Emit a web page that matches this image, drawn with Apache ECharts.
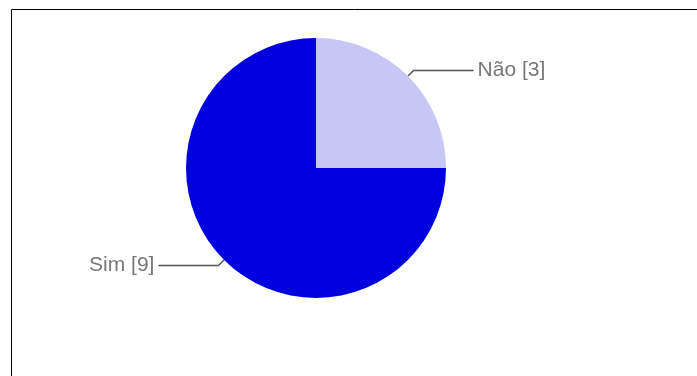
<!DOCTYPE html>
<html>
<head>
<meta charset="utf-8">
<script src="https://cdn.jsdelivr.net/npm/echarts@6/dist/echarts.min.js"></script>
<style>
  html, body { margin: 0; padding: 0; background: #fff; }
  #chart { width: 697px; height: 376px; }
</style>
</head>
<body>
<div id="chart"></div>
<script>
// Respostas: categorias e contagens
const categories = ['Não', 'Sim'];
const counts = [3, 9];
const colors = ['#c6c7f4', '#0000de'];

const chart = echarts.init(document.getElementById('chart'), null, { renderer: 'canvas' });

const pieData = categories.map((name, i) => ({
  name: name,
  value: counts[i],
  itemStyle: { color: colors[i] }
}));

chart.setOption({
  animation: false,
  backgroundColor: '#ffffff',
  graphic: [{
    type: 'polyline',
    shape: { points: [[11.5, 376], [11.5, 9.5], [697, 9.5]] },
    style: { stroke: '#000', lineWidth: 1, fill: null },
    silent: true
  }],
  series: [{
    type: 'pie',
    center: [316, 168],
    radius: 130,
    startAngle: 90,
    clockwise: true,
    data: pieData,
    label: {
      show: true,
      position: 'outside',
      formatter: p => p.name + ' [' + p.value + ']',
      fontFamily: 'Liberation Sans, Arial, sans-serif',
      fontSize: 21,
      color: '#777777',
      distanceToLabelLine: 4
    },
    labelLine: {
      show: true,
      length: 8,
      length2: 60,
      smooth: false,
      lineStyle: { color: '#555555', width: 1.5 }
    },
    emphasis: { disabled: true }
  }]
});
</script>
</body>
</html>
